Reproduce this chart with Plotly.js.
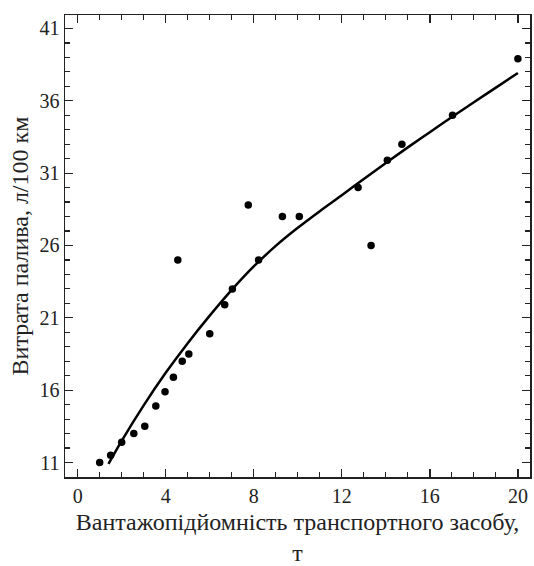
<!DOCTYPE html>
<html>
<head>
<meta charset="utf-8">
<script src="https://cdn.plot.ly/plotly-3.0.1.min.js"></script>
<style>html,body{margin:0;padding:0;background:#fff;}#chart{width:534px;height:566px;}</style>
</head>
<body>
<div id="chart"></div>
<script>
// Observed data points (capacity, t ; fuel use, l/100 km)
const pointX = [1.0, 1.5, 2.0, 2.55, 3.05, 3.55, 3.97, 4.35, 4.55, 4.75, 5.05, 6.0, 6.68, 7.03, 7.75, 8.22, 9.3, 10.07, 12.74, 13.33, 14.07, 14.73, 17.03, 20.0];
const pointY = [11.0, 11.5, 12.4, 13.0, 13.5, 14.9, 15.9, 16.9, 25.0, 18.0, 18.5, 19.9, 21.9, 23.0, 28.8, 25.0, 28.0, 28.0, 30.0, 26.0, 31.9, 33.0, 35.0, 38.9];
// Fitted curve
const curveX = [1.4, 2, 3, 4, 5, 6, 7, 8, 9, 10, 11, 12, 13, 14, 15, 16, 17, 18, 19, 20];
const curveY = [10.9, 12.5, 14.95, 17.2, 19.25, 21.15, 22.93, 24.55, 25.97, 27.22, 28.37, 29.47, 30.6, 31.7, 32.78, 33.83, 34.88, 35.9, 36.91, 37.92];
const xTicks = [0, 4, 8, 12, 16, 20];
const yTicks = [11, 16, 21, 26, 31, 36, 41];

const serif = "'Liberation Serif', 'Times New Roman', serif";
const font = {family: serif, size: 20, color: '#222'};

const traces = [
  {x: curveX, y: curveY, mode: 'lines', line: {color: '#000', width: 2.5, shape: 'spline', smoothing: 1}, hoverinfo: 'skip'},
  {x: pointX, y: pointY, mode: 'markers', marker: {color: '#000', size: 7.5}}
];

const axisCommon = {
  showgrid: false, zeroline: false, showline: true, linecolor: '#222', linewidth: 1.5,
  mirror: 'allticks', ticks: 'inside', ticklen: 8, tickwidth: 1.3, tickcolor: '#222',
  tickfont: font,
  minor: {dtick: 1, ticks: 'inside', ticklen: 5, tickwidth: 1.2, tickcolor: '#222', showgrid: false}
};

const layout = {
  width: 534, height: 566,
  margin: {l: 65, r: 2, t: 15, b: 89},
  paper_bgcolor: '#fff', plot_bgcolor: '#fff',
  showlegend: false,
  font: font,
  xaxis: Object.assign({}, axisCommon, {
    automargin: false,
    range: [-0.575, 20.55], tickvals: xTicks, ticktext: xTicks.map(String),
    title: {text: 'Вантажопідйомність транспортного засобу,<br>т', font: {family: serif, size: 24, color: '#222'}}
  }),
  yaxis: Object.assign({}, axisCommon, {
    automargin: true,
    range: [10.0, 41.93], tickvals: yTicks, ticktext: yTicks.map(String),
    title: {text: 'Витрата палива, л/100 км', font: {family: serif, size: 24, color: '#222'}, standoff: 4}
  })
};

Plotly.newPlot('chart', traces, layout, {staticPlot: true, displayModeBar: false});
</script>
</body>
</html>
